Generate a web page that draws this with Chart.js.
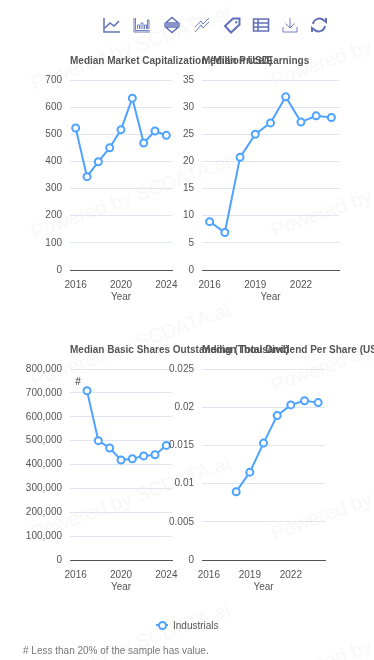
<!DOCTYPE html>
<html>
<head>
<meta charset="utf-8">
<script src="https://cdn.jsdelivr.net/npm/chart.js@4"></script>
<style>
html, body { margin: 0; padding: 0; background: #fff; }
#page { position: relative; width: 374px; height: 660px; overflow: hidden; font-family: "Liberation Sans", Arial, sans-serif; }
#page canvas { position: absolute; left: 0; top: 0; }
.wm { position: absolute; font-size: 20px; line-height: 20px; color: #f8f8f8; white-space: nowrap; transform: rotate(-20deg); transform-origin: left bottom; }
.title { position: absolute; font-size: 10px; font-weight: bold; color: #555; white-space: nowrap; }
#legend { position: absolute; left: 156px; top: 618px; font-size: 10px; color: #555; line-height: 14px; }
#legend b { position: absolute; left: 0; top: 6px; width: 12px; height: 2px; background: #4da3ff; }
#legend i { position: absolute; left: 1.500px; top: 2.500px; width: 5px; height: 5px; border: 2px solid #4da3ff; border-radius: 50%; background: #fff; }
#legend span { margin-left: 17px; position: relative; top: 1px; }
#note { position: absolute; left: 23px; top: 645px; font-size: 10px; color: #777; }
svg.tool { position: absolute; top: 16px; width: 18px; height: 18px; fill: none; stroke: #6070b8; stroke-width: 1.200; }
</style>
</head>
<body>
<div id="page"></div>
<script>
var years = ["2016","2017","2018","2019","2020","2021","2022","2023","2024"];
var marketCap = [523,344,399,450,517,633,468,512,496];
var priceEarnings = [8.9,6.9,20.75,25,27.1,31.9,27.25,28.4,28.1];
var sharesOut = [null,709000,500000,469000,419000,424000,436000,441000,480000];
var dividend = [null,null,0.00894,0.0115,0.0153,0.0189,0.0203,0.02085,0.0206];
var sharesFlags = ["","#","","","","","","",""];
var seriesName = "Industrials";
var watermarks = [[35,93],[35,242],[35,390],[35,543],[35,690],[275,90],[275,240],[275,395],[275,543],[275,690]];
var page = document.getElementById("page");

watermarks.forEach(function(w){
    var wm = document.createElement("div");
    wm.className = "wm";
    wm.textContent = "Powered by SCDATA.ai";
    wm.style.left = w[0]+"px";
    wm.style.top = (w[1]-20)+"px";
    page.appendChild(wm);
});

// point flags ("#") sit up and left of the point
const flagPlugin = {
    id: "flags",
    afterDatasetsDraw(chart) {
        var flags = chart.options.plugins.flags.list;
        if(!flags) return;
        var ctx = chart.ctx;
        var meta = chart.getDatasetMeta(0);
        ctx.save();
        ctx.font = "10px 'Liberation Sans'";
        ctx.fillStyle = "#333";
        ctx.textAlign = "center";
        ctx.textBaseline = "middle";
        for(var i=0; i<flags.length; i++) {
            if(flags[i]) ctx.fillText(flags[i], meta.data[i].x-9, meta.data[i].y-8);
        }
        ctx.restore();
    }
};

function drawChart(o){
    var cv = document.createElement("canvas");
    cv.style.width = "374px";
    cv.style.height = "660px";
    page.appendChild(cv);
    new Chart(cv, {
        type: "line",
        data: {
            labels: years,
            datasets: [{
                label: seriesName,
                data: o.data,
                borderColor: "#4da3ff",
                backgroundColor: "#fff",
                borderWidth: 2,
                pointRadius: 3.5,
                pointBorderWidth: 2,
                pointBackgroundColor: "#fff",
                pointBorderColor: "#4da3ff",
                tension: 0,
                clip: false
            }]
        },
        plugins: [flagPlugin],
        options: {
            responsive: false,
            animation: false,
            devicePixelRatio: 1,
            layout: { padding: { left: 0, top: o.top, right: 374-o.right, bottom: 660-o.bottom-33 } },
            plugins: { legend: { display: false }, title: { display: false }, tooltip: { enabled: false }, flags: { list: o.flags } },
            scales: {
                x: {
                    offset: true,
                    afterFit: function(a){ a.height = 33; },
                    grid: { display: false, drawTicks: false },
                    border: { color: "#555", width: 1 },
                    title: { display: true, text: "Year", color: "#555", font: { size: 10, family: "Liberation Sans" }, padding: 0 },
                    ticks: {
                        autoSkip: false, maxRotation: 0, padding: 9, color: "#555",
                        font: { size: 10, family: "Liberation Sans" },
                        callback: function(v,i){ return i % o.every == 0 ? years[i] : ""; }
                    }
                },
                y: {
                    min: 0, max: o.max,
                    afterFit: function(a){ a.width = o.left; },
                    grid: { color: "#e0e6f1", drawTicks: false },
                    border: { display: false },
                    ticks: {
                        stepSize: o.step, padding: 8, color: "#555",
                        font: { size: 10, family: "Liberation Sans" },
                        callback: o.fmt
                    }
                }
            }
        }
    });
    var t = document.createElement("div");
    t.className = "title";
    t.textContent = o.title;
    t.style.left = o.left+"px";
    t.style.top = o.titleTop+"px";
    page.appendChild(t);
}

drawChart({ title:"Median Market Capitalization (Million USD)", data:marketCap, left:70, right:172, top:80, bottom:270, titleTop:55, max:700, step:100, every:4 });
drawChart({ title:"Median Price/Earnings", data:priceEarnings, left:202, right:339, top:80, bottom:270, titleTop:55, max:35, step:5, every:3 });
drawChart({ title:"Median Basic Shares Outstanding (Thousand)", data:sharesOut, flags:sharesFlags, left:70, right:172, top:369, bottom:560, titleTop:344, max:800000, step:100000, every:4, fmt:function(v){ return v.toLocaleString("en-US"); } });
drawChart({ title:"Median Total Dividend Per Share (USD)", data:dividend, left:202, right:325, top:369, bottom:560, titleTop:344, max:0.025, step:0.005, every:3, fmt:function(v){ return String(+v.toFixed(3)); } });

var legend = document.createElement("div");
legend.id = "legend";
legend.innerHTML = "<b></b><i></i><span></span>";
legend.querySelector("span").textContent = seriesName;
page.appendChild(legend);

var note = document.createElement("div");
note.id = "note";
note.textContent = "# Less than 20% of the sample has value.";
page.appendChild(note);

// toolbox icons
var tools = [
    [103, '<path d="M1 2V16H17M2 12L7 7L11 10L16 5" stroke-width="1.500"/>'],
    [133, '<path d="M1 2V16H17M2.500 2V14.500H16.500M4.500 13V9H6.500V13M8 13V7H10V13M11.500 13V9H13.500V13M14.500 13V4H16V13" stroke-width="0.900"/>'],
    [163, '<path d="M2.500 7L9 1.500L15.500 7ZM2.500 11L9 16.500L15.500 11ZM1 9H17" stroke-width="1.500"/>'],
    [193, '<path d="M2 11L8 5L10 8L16 2M2 16L8 9L10 12L16 6" stroke-width="0.900"/>'],
    [223, '<path d="M2 10L10 2.500L16.500 2.500V8.500L8 16.500ZM12.500 5.500L14 7" stroke-width="2"/>'],
    [252, '<path d="M1.500 3H16.500V15H1.500ZM1.500 7H16.500M1.500 11H16.500M6 3V15" stroke-width="1.600"/>'],
    [281, '<path d="M2 11V16H16V11M9 2V12M4.500 7.500L9 12L13.500 7.500" stroke-width="0.900"/>'],
    [310, '<path d="M3 8A6.500 6.500 0 0 1 14 4.500L16 6V2M15 10A6.500 6.500 0 0 1 4 13.500L2 12V16" stroke-width="2"/>']
];
tools.forEach(function(t){
    var d = document.createElement("div");
    d.innerHTML = '<svg class="tool" viewBox="0 0 18 18" style="left:'+t[0]+'px">'+t[1]+'</svg>';
    page.appendChild(d.firstChild);
});
</script>
</body>
</html>
